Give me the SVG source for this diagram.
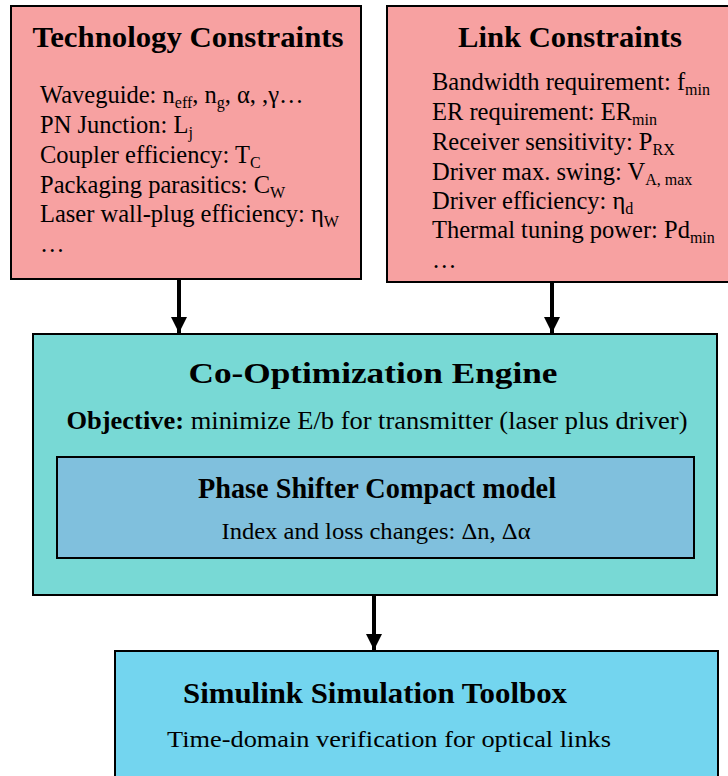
<svg xmlns="http://www.w3.org/2000/svg" width="728" height="776" viewBox="0 0 728 776">
  <style>
    .box { stroke: #000; stroke-width: 2; }
    .pink { fill: #F7A1A1; }
    .teal { fill: #78D9D5; }
    .inner { fill: #80C0DD; }
    .sim { fill: #73D5EF; }
    text { font-family: "Liberation Serif", "Times New Roman", serif; fill: #000; }
    .title { font-weight: bold; font-size: 30px; text-anchor: middle; }
    .item { font-size: 24.5px; }
    .sub { font-size: 16px; }
    .conn { stroke: #000; stroke-width: 4; fill: none; marker-end: url(#head); }
  </style>
  <defs>
    <marker id="head" viewBox="0 0 10 10" refX="10" refY="5" markerWidth="4" markerHeight="4.3" markerUnits="strokeWidth" orient="auto">
      <path d="M0,0 L10,5 L0,10 Z" fill="#000"/>
    </marker>
  </defs>
  <rect width="728" height="776" fill="#fff"/>

  <g id="connectors">
    <line class="conn" x1="179" y1="280" x2="179" y2="333"/>
    <line class="conn" x1="552" y1="282" x2="552" y2="333"/>
    <line class="conn" x1="374" y1="595" x2="374" y2="650"/>
  </g>

  <g id="technology-constraints">
    <rect class="box pink" x="11" y="6" width="350" height="273"/>
    <text class="title" x="188" y="47" textLength="311" lengthAdjust="spacingAndGlyphs">Technology Constraints</text>
    <text class="item" x="40" y="103">Waveguide: n<tspan class="sub" dy="5">eff</tspan><tspan dy="-5">, n</tspan><tspan class="sub" dy="5">g</tspan><tspan dy="-5">, α, ,γ…</tspan></text>
    <text class="item" x="40" y="133">PN Junction:  L<tspan class="sub" dy="5">j</tspan></text>
    <text class="item" x="40" y="163">Coupler efficiency: T<tspan class="sub" dy="5">C</tspan></text>
    <text class="item" x="40" y="193">Packaging parasitics: C<tspan class="sub" dy="5">W</tspan></text>
    <text class="item" x="40" y="222">Laser wall-plug efficiency: η<tspan class="sub" dy="5">W</tspan></text>
    <text class="item" x="40" y="252">…</text>
  </g>

  <g id="link-constraints">
    <rect class="box pink" x="387" y="6" width="350" height="276"/>
    <text class="title" x="570" y="47" textLength="224" lengthAdjust="spacingAndGlyphs">Link Constraints</text>
    <text class="item" x="432" y="90">Bandwidth requirement: f<tspan class="sub" dy="5">min</tspan></text>
    <text class="item" x="432" y="120">ER requirement: ER<tspan class="sub" dy="5">min</tspan></text>
    <text class="item" x="432" y="150">Receiver sensitivity: P<tspan class="sub" dy="5">RX</tspan></text>
    <text class="item" x="432" y="180">Driver max. swing: V<tspan class="sub" dy="5">A, max</tspan></text>
    <text class="item" x="432" y="209">Driver efficiency: η<tspan class="sub" dy="5">d</tspan></text>
    <text class="item" x="432" y="238">Thermal tuning power: Pd<tspan class="sub" dy="5">min</tspan></text>
    <text class="item" x="432" y="268">…</text>
  </g>

  <g id="co-optimization-engine">
    <rect class="box teal" x="33" y="334" width="684" height="261"/>
    <text class="title" x="373" y="383" font-size="34" textLength="369" lengthAdjust="spacingAndGlyphs">Co-Optimization Engine</text>
    <text x="377" y="429" font-size="26" text-anchor="middle" textLength="621" lengthAdjust="spacingAndGlyphs"><tspan font-weight="bold">Objective:</tspan> minimize E/b for transmitter (laser plus driver)</text>
  </g>

  <g id="phase-shifter-model">
    <rect class="box inner" x="57" y="457" width="637" height="101"/>
    <text class="title" x="377" y="498" font-size="28" textLength="358" lengthAdjust="spacingAndGlyphs">Phase Shifter Compact model</text>
    <text x="376" y="539" font-size="24" text-anchor="middle" textLength="309" lengthAdjust="spacingAndGlyphs">Index and loss changes: Δn, Δα</text>
  </g>

  <g id="simulink-toolbox">
    <rect class="box sim" x="115" y="651" width="603" height="140"/>
    <text class="title" x="375" y="703" textLength="384" lengthAdjust="spacingAndGlyphs">Simulink Simulation Toolbox</text>
    <text x="389" y="747" font-size="24" text-anchor="middle" textLength="444" lengthAdjust="spacingAndGlyphs">Time-domain verification for optical links</text>
  </g>
</svg>
